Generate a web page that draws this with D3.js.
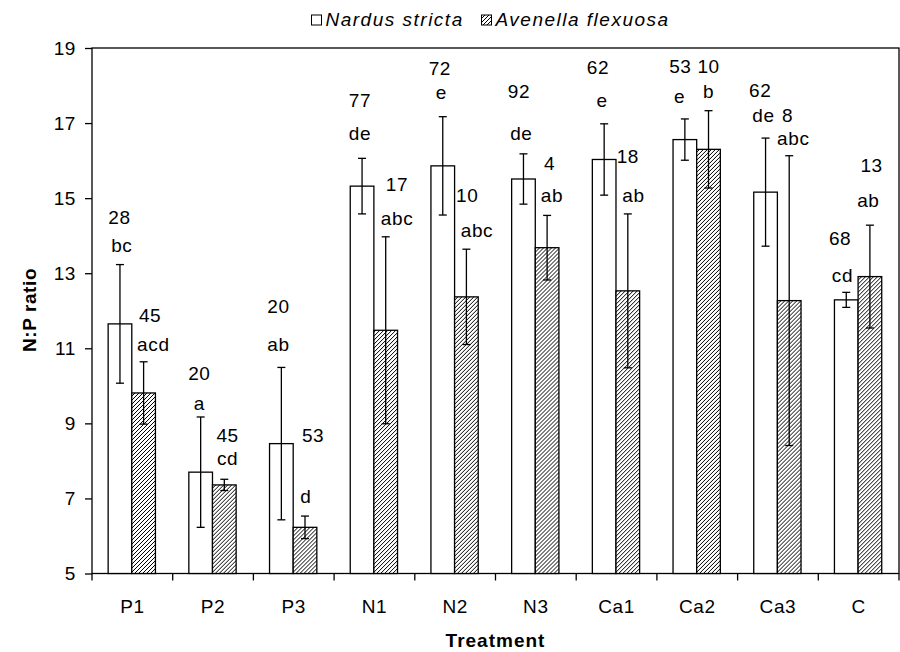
<!DOCTYPE html>
<html><head><meta charset="utf-8">
<script src="https://cdn.jsdelivr.net/npm/d3@7"></script>
<style>html,body{margin:0;padding:0;background:#fff;}svg{display:block;}</style>
</head><body>
<svg id="chart" width="900" height="652"></svg>
<script>
const categories = ["P1","P2","P3","N1","N2","N3","Ca1","Ca2","Ca3","C"];
const seriesNames = ["Nardus stricta","Avenella flexuosa"];
const nardus    = [11.65, 7.70, 8.46, 15.32, 15.86, 15.51, 16.03, 16.56, 15.16, 12.29];
const nardusErr = [1.58, 1.47, 2.03, 0.74, 1.31, 0.67, 0.95, 0.55, 1.44, 0.20];
const avenella    = [9.81, 7.36, 6.23, 11.48, 12.37, 13.68, 12.53, 16.30, 12.27, 12.91];
const avenellaErr = [0.83, 0.15, 0.30, 2.49, 1.27, 0.86, 2.05, 1.03, 3.86, 1.37];
const yTicks = [5,7,9,11,13,15,17,19];
// annotation labels: text, y (data units), offset within band (fraction)
const nardusNum    = ["28","20","20","77","72","92","62","53","62","68"];
const nardusNumY   = [14.31,10.16,11.93,17.44,18.28,17.66,18.30,18.33,17.70,13.75];
const nardusNumDx  = [-0.16,-0.17,-0.19,-0.18,-0.19,-0.21,-0.23,-0.21,-0.22,-0.23];
const nardusLet    = ["bc","a","ab","de","e","de","e","e","de","cd"];
const nardusLetY   = [13.57,9.36,10.94,16.55,17.63,16.55,17.44,17.53,17.04,12.77];
const nardusLetDx  = [-0.13,-0.17,-0.19,-0.18,-0.17,-0.18,-0.18,-0.22,-0.18,-0.20];
const avenNum      = ["45","45","53","17","10","4","18","10","8","13"];
const avenNumY     = [11.71,8.51,8.51,15.20,14.91,15.75,15.93,18.33,17.04,15.70];
const avenNumDx    = [0.22,0.18,0.24,0.28,0.15,0.17,0.14,0.14,0.12,0.16];
const avenLet      = ["acd","cd","d","abc","abc","ab","ab","b","abc","ab"];
const avenLetY     = [10.93,7.89,6.89,14.28,13.97,14.91,14.91,17.66,16.42,14.77];
const avenLetDx    = [0.26,0.18,0.15,0.28,0.27,0.20,0.21,0.14,0.19,0.12];

const svg = d3.select("#chart");
const FONT = "'Liberation Sans', Arial, Helvetica, sans-serif";
const FS = 19, LS = "0.6px";
const M = {left: 92, right: 899, top: 48, bottom: 573.5};

const defs = svg.append("defs");
const pat = defs.append("pattern").attr("id","hatch").attr("patternUnits","userSpaceOnUse")
  .attr("width",4).attr("height",4);
pat.append("rect").attr("width",4).attr("height",4).attr("fill","#fff");
pat.append("path").attr("d","M-1,1 l2,-2 M0,4 l4,-4 M3,5 l2,-2").attr("stroke","#000").attr("stroke-width",1);

const x = d3.scaleBand().domain(categories).range([M.left, M.right]).padding(0);
const bw = x.bandwidth();
const x1 = d3.scaleBand().domain(seriesNames).range([bw*0.2, bw*0.786]).padding(0);
const y = d3.scaleLinear().domain([5,19]).range([M.bottom, M.top]);

const data = categories.map((c,i)=>({c, vals:[
  {s:seriesNames[0], v:nardus[i], e:nardusErr[i]},
  {s:seriesNames[1], v:avenella[i], e:avenellaErr[i]}]}));

// frame
svg.append("rect").attr("x",M.left).attr("y",M.top).attr("width",M.right-M.left).attr("height",M.bottom-M.top)
  .attr("fill","none").attr("stroke","#000").attr("stroke-width",1.3);

const g = svg.selectAll("g.cat").data(data).join("g").attr("class","cat")
  .attr("transform",d=>`translate(${x(d.c)},0)`);
g.selectAll("rect").data(d=>d.vals).join("rect")
  .attr("x",d=>x1(d.s)).attr("width",x1.bandwidth())
  .attr("y",d=>y(d.v)).attr("height",d=>y(5)-y(d.v))
  .attr("fill",(d,i)=>i===0?"#fff":"url(#hatch)")
  .attr("stroke","#000").attr("stroke-width",1.3);
// error bars
const eb = g.selectAll("g.err").data(d=>d.vals).join("g").attr("class","err")
  .attr("stroke","#000").attr("stroke-width",1.3);
const cx = d=>x1(d.s)+x1.bandwidth()/2;
eb.append("line").attr("x1",cx).attr("x2",cx)
  .attr("y1",d=>y(d.v+d.e)).attr("y2",d=>y(d.v-d.e));
eb.append("line").attr("x1",d=>cx(d)-4).attr("x2",d=>cx(d)+4)
  .attr("y1",d=>y(d.v+d.e)).attr("y2",d=>y(d.v+d.e));
eb.append("line").attr("x1",d=>cx(d)-4).attr("x2",d=>cx(d)+4)
  .attr("y1",d=>y(d.v-d.e)).attr("y2",d=>y(d.v-d.e));

// axes
const yAxis = d3.axisLeft(y).tickValues(yTicks).tickSize(7).tickPadding(9).tickFormat(d3.format("d"));
const ya = svg.append("g").attr("transform",`translate(${M.left},0)`).call(yAxis);
ya.select(".domain").remove();
const xAxis = d3.axisBottom(x).tickSize(0).tickPadding(26);
const xa = svg.append("g").attr("transform",`translate(0,${M.bottom})`).call(xAxis);
xa.select(".domain").remove();
[ya,xa].forEach(a=>{a.selectAll("text").attr("font-family",FONT).attr("font-size",FS)
  .attr("letter-spacing",LS).attr("fill","#000");
  a.selectAll("line").attr("stroke","#000").attr("stroke-width",1.3);});
// category boundary ticks
svg.append("g").selectAll("line").data(d3.range(categories.length+1)).join("line")
  .attr("x1",i=>M.left+i*bw).attr("x2",i=>M.left+i*bw)
  .attr("y1",M.bottom).attr("y2",M.bottom+7).attr("stroke","#000").attr("stroke-width",1.3);

// labels
const lab = svg.append("g").attr("font-family",FONT).attr("font-size",FS).attr("letter-spacing",LS)
  .attr("text-anchor","middle").attr("fill","#000");
function addLabels(texts, ys, dxs){
  lab.selectAll(null).data(texts).join("text")
    .attr("x",(t,i)=>x(categories[i])+bw/2+dxs[i]*bw).attr("y",(t,i)=>y(ys[i])).text(t=>t);
}
addLabels(nardusNum, nardusNumY, nardusNumDx);
addLabels(nardusLet, nardusLetY, nardusLetDx);
addLabels(avenNum, avenNumY, avenNumDx);
addLabels(avenLet, avenLetY, avenLetDx);

// titles
svg.append("text").attr("x",(M.left+M.right)/2).attr("y",647).attr("text-anchor","middle")
  .attr("font-family",FONT).attr("font-size",FS).attr("letter-spacing","1px").attr("font-weight","bold").text("Treatment");
svg.append("text").attr("transform","translate(36,310) rotate(-90)").attr("text-anchor","middle")
  .attr("font-family",FONT).attr("font-size",FS).attr("letter-spacing","0.6px").attr("font-weight","bold").text("N:P ratio");

// legend
const leg = svg.append("g");
const legX = [311.5, 481.5];
seriesNames.forEach((s,i)=>{
  leg.append("rect").attr("x",legX[i]).attr("y",15).attr("width",10).attr("height",10)
    .attr("fill",i===0?"#fff":"url(#hatch)").attr("stroke","#000").attr("stroke-width",1);
  leg.append("text").attr("x",legX[i]+14).attr("y",25.5).attr("font-family",FONT)
    .attr("font-size",19).attr("letter-spacing","1.5px").attr("font-style","italic").text(s);
});
</script>
</body></html>
